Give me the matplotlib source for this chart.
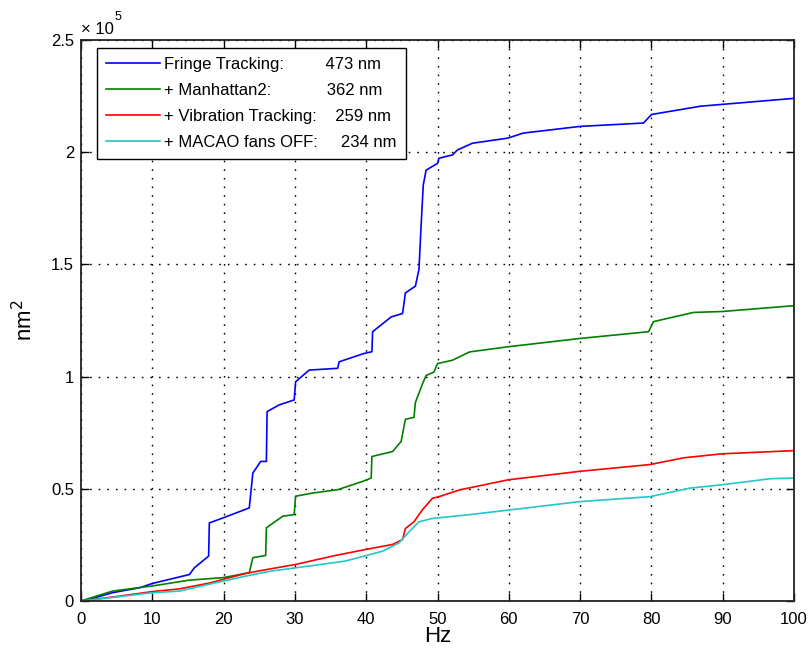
import matplotlib
matplotlib.use("Agg")
import matplotlib.pyplot as plt
from matplotlib.ticker import FuncFormatter, MultipleLocator
import numpy as np

plt.rcParams['font.family'] = ['Liberation Sans', 'DejaVu Sans']

# values in units of 1e3 nm^2
blue_x = [0, 2, 4.4, 8.2, 10, 15.2, 15.9, 17.9, 18, 19.9, 23.6, 24.1, 25.2, 26, 26.1, 27.8, 29.9, 30.1,
          32, 36, 36.2, 39.7, 40.8, 40.9, 43.5, 45.1, 45.5, 46.9, 47.4, 47.7, 48.0, 48.4, 50, 50.2,
          52.1, 52.8, 54.9, 59.9, 62, 70, 78.9, 80, 86.9, 89.9, 100]
blue_y = [0, 1.5, 3.7, 5.9, 7.8, 11.8, 14.8, 20, 34.8, 37, 41.5, 57, 62.2, 62.2, 84.4, 87.4, 89.6, 97.7,
          102.9, 103.7, 106.6, 110.3, 111.1, 120, 126.6, 128.1, 137.3, 140.3, 147.8, 167.3, 185.3, 192, 195, 197.3,
          198.8, 201, 204, 206.3, 208.5, 211.5, 213, 216.8, 220.5, 221.3, 224]

green_x = [0, 4.4, 10, 15.2, 19.9, 23.6, 24.1, 25.9, 26, 28.3, 29.9, 30.1, 32.5, 36, 39.5, 40.7, 40.8,
           43.7, 44.9, 45.5, 46.7, 46.9, 47.9, 48.4, 49.5, 50, 52.1, 54.5, 59.9, 70, 79.6, 80.3, 85.9, 89.9, 100]
green_y = [0, 4.4, 6.7, 9.3, 10.4, 12.6, 19.3, 20.3, 32.6, 37.8, 38.5, 46.7, 48.1, 49.6, 53.3, 54.8, 64.4,
           66.6, 71.1, 81, 81.8, 88.5, 96.8, 100.5, 102, 105.8, 107.3, 111, 113.3, 117, 120, 124.5, 128.6, 129, 131.6]

red_x = [0, 5, 10, 13.8, 18, 23.1, 26, 30.1, 35.7, 40, 43.7, 45.1, 45.5, 46.7, 47.9, 49.3, 50.2, 53.1,
         59.9, 70, 79.8, 84.5, 89.9, 100]
red_y = [0, 2, 4.2, 5.4, 8, 12.3, 14, 16.3, 20.3, 23, 25.2, 27.4, 32.3, 35.3, 40.7, 45.8, 46.5, 49.5,
         54, 57.8, 60.8, 63.8, 65.6, 67]

cyan_x = [0, 5, 10, 13.8, 18, 23.1, 26.6, 32.5, 37.1, 42.3, 44.6, 46, 47.4, 49.3, 54, 59.9, 70, 79.8,
          85.4, 89.9, 96.7, 100]
cyan_y = [0, 1.8, 3.7, 4.4, 7.5, 11.1, 13.3, 15.8, 17.8, 22.2, 25.9, 30.8, 35.3, 36.8, 38.3, 40.5, 44.3, 46.5,
          50.3, 51.8, 54.5, 54.8]

labels = ["Fringe Tracking:         473 nm",
          "+ Manhattan2:            362 nm",
          "+ Vibration Tracking:    259 nm",
          "+ MACAO fans OFF:     234 nm"]
colors = ["#0000ff", "#008000", "#ff0000", "#20c8c8"]

fig = plt.figure(figsize=(8.09, 6.58), dpi=100)
ax = fig.add_axes([81/809, 57/658, (794-81)/809, (601-40)/658])

series = [(blue_x, blue_y), (green_x, green_y), (red_x, red_y), (cyan_x, cyan_y)]
for (xs, ys), lab, c in zip(series, labels, colors):
    ax.plot(xs, np.array(ys) * 1e3, color=c, lw=1.2, label=lab)

ax.set_xlim(0, 100)
ax.set_ylim(0, 2.5e5)
ax.xaxis.set_major_locator(MultipleLocator(10))
ax.yaxis.set_major_locator(MultipleLocator(0.5e5))
ax.yaxis.set_major_formatter(FuncFormatter(lambda v, p: "%g" % (v / 1e5)))
ax.grid(True, color='black', linestyle=(0, (1.2, 5)), linewidth=1.0)
ax.tick_params(direction='in', length=6, width=1, top=True, right=True, labelsize=12)
ax.tick_params(axis='x', pad=8)
ax.tick_params(axis='y', pad=5)
for s in ax.spines.values():
    s.set_linewidth(1.3)
    s.set_color('#222222')
ax.set_xlabel("Hz", fontsize=16, labelpad=-1)
ax.set_ylabel("nm$^2$", fontsize=16, labelpad=10)
ax.text(0.0, 1.005, "\u00d7 10", transform=ax.transAxes, fontsize=12, ha='left', va='bottom')
ax.text(0.047, 1.03, "5", transform=ax.transAxes, fontsize=9, ha='left', va='bottom')

leg = ax.legend(loc='upper left', bbox_to_anchor=((97-81)/713, (601-48)/561), borderaxespad=0,
                fontsize=12, frameon=True, fancybox=False, edgecolor='black', framealpha=1,
                handlelength=3.2, borderpad=0.55, labelspacing=0.65, handletextpad=0.3)
leg.get_frame().set_linewidth(1.0)

fig.savefig("out.png", dpi=100)
